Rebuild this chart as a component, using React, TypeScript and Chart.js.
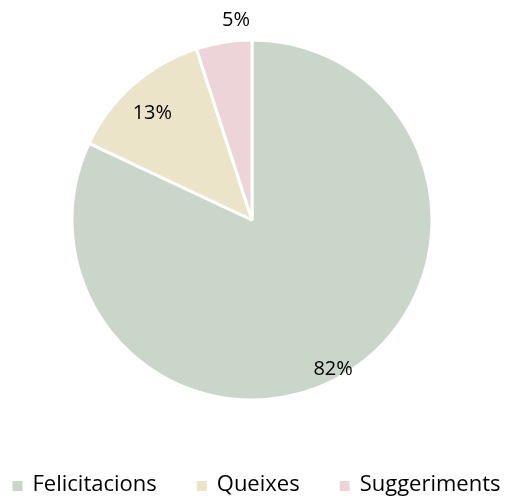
import React, { useEffect, useRef } from "react";
import { Chart, registerables } from "chart.js";

Chart.register(...registerables);

const categories = ["Felicitacions", "Queixes", "Suggeriments"];
const values = [82, 13, 5];
const colors = ["#cbd6ca", "#ece4c8", "#ecd4d8"];

const FONT = "'Open Sans', 'Noto Sans', sans-serif";
// label placement: fraction of radius, angle tweak (radians)
const labelRadius = [0.944, 0.81, 1.115];
const labelAngleShift = [0.068, -0.03, 0.077];

const labelPlugin = {
  id: "pieLabels",
  afterDatasetsDraw(chart: any) {
    const ctx = chart.ctx;
    const meta = chart.getDatasetMeta(0);
    const total = values.reduce((a, b) => a + b, 0);
    ctx.save();
    ctx.font = "20px " + FONT;
    ctx.fillStyle = "#000";
    ctx.textAlign = "center";
    ctx.textBaseline = "middle";
    meta.data.forEach((arc: any, i: number) => {
      const mid = (arc.startAngle + arc.endAngle) / 2 + labelAngleShift[i];
      const r = arc.outerRadius * labelRadius[i];
      const x = arc.x + Math.cos(mid) * r;
      const y = arc.y + Math.sin(mid) * r;
      ctx.fillText(Math.round((values[i] / total) * 100) + "%", x, y);
    });
    ctx.restore();
  },
};

const legendPlugin = {
  id: "customLegend",
  afterDraw(chart: any) {
    const ctx = chart.ctx;
    ctx.save();
    ctx.font = "22px " + FONT;
    ctx.textBaseline = "middle";
    ctx.textAlign = "left";
    const box = 10;
    const boxGap = 10;
    const itemGap = 40;
    const widths = categories.map((c) => box + boxGap + ctx.measureText(c).width);
    const total = widths.reduce((a, b) => a + b, 0) + itemGap * (categories.length - 1);
    let x = 256.5 - total / 2;
    const y = 485;
    categories.forEach((c, i) => {
      ctx.fillStyle = colors[i];
      ctx.fillRect(x, y - box / 2 + 1, box, box);
      ctx.fillStyle = "#000";
      ctx.fillText(c, x + box + boxGap, y);
      x += widths[i] + itemGap;
    });
    ctx.restore();
  },
};

export default function App() {
  const ref = useRef<HTMLCanvasElement>(null);
  useEffect(() => {
    if (!ref.current) return;
    const chart = new Chart(ref.current, {
      type: "pie",
      data: {
        labels: categories,
        datasets: [
          {
            data: values,
            backgroundColor: colors,
            borderColor: "#ffffff",
            borderWidth: 3,
            radius: 180,
          },
        ],
      },
      options: {
        animation: false,
        responsive: false,
        layout: { padding: { top: 0, bottom: 57, left: 0, right: 2 } },
        plugins: {
          tooltip: { enabled: false },
          legend: { display: false },
        },
      },
      plugins: [labelPlugin, legendPlugin],
    });
    return () => chart.destroy();
  }, []);
  return (
    <div style={{ position: "absolute", left: 0, top: 0, width: 506, height: 497, background: "#fff" }}>
      <canvas ref={ref} width={506} height={497} />
    </div>
  );
}
